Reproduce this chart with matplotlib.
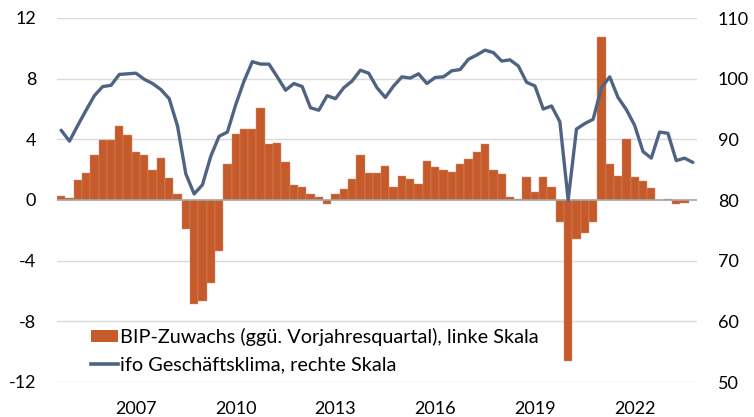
import numpy as np
import matplotlib
matplotlib.use("Agg")
import matplotlib.pyplot as plt
from matplotlib.patches import Patch
from matplotlib.lines import Line2D

plt.rcParams['font.family'] = ['Lato', 'DejaVu Sans']

# quarterly data, 2005Q1 .. 2024Q1
gdp_growth = [0.26, 0.15, 1.30, 1.78, 2.97, 3.98, 3.98, 4.88, 4.29, 3.16,
              2.97, 1.98, 2.77, 1.47, 0.37, -1.89, -6.86, -6.68, -5.47, -3.36,
              2.40, 4.37, 4.66, 4.66, 6.09, 3.72, 3.78, 2.48, 0.99, 0.88,
              0.40, 0.18, -0.29, 0.37, 0.70, 1.36, 2.97, 1.78, 1.78, 2.26,
              0.88, 1.58, 1.36, 1.08, 2.57, 2.20, 1.98, 1.87, 2.37, 2.68,
              3.16, 3.67, 1.98, 1.69, 0.20, 0.08, 1.50, 0.50, 1.49, 0.88,
              -1.47, -10.6, -2.6, -2.2, -1.47, 10.77, 2.37, 1.58, 4.0, 1.49,
              1.27, 0.77, 0.0, 0.07, -0.29, -0.18, np.nan]
ifo_climate = [91.5, 89.7, 92.3, 94.8, 97.2, 98.7, 98.9, 100.7, 100.8, 100.9,
               99.9, 99.2, 98.2, 96.7, 92.2, 84.3, 81.0, 82.5, 87.2, 90.5,
               91.2, 95.7, 99.6, 102.8, 102.4, 102.4, 100.3, 98.1, 99.2, 98.7,
               95.2, 94.8, 97.2, 96.7, 98.5, 99.6, 101.4, 100.9, 98.5, 96.9,
               98.8, 100.3, 100.1, 100.8, 99.2, 100.2, 100.3, 101.3, 101.5, 103.2,
               103.9, 104.7, 104.3, 102.9, 103.1, 102.1, 99.4, 98.8, 95.0, 95.5,
               92.9, 80.0, 91.7, 92.6, 93.3, 98.5, 100.3, 96.9, 94.9, 92.3,
               88.0, 86.9, 91.2, 91.0, 86.5, 86.9, 86.2]
year_labels = ['2007', '2010', '2013', '2016', '2019', '2022']
left_ticks = [-12, -8, -4, 0, 4, 8, 12]
right_ticks = [50, 60, 70, 80, 90, 100, 110]
label_bar = 'BIP-Zuwachs (ggü. Vorjahresquartal), linke Skala'
label_line = 'ifo Geschäftsklima, rechte Skala'

bar_color = '#C55A2B'
line_color = '#4F6483'

W, H = 754, 417
fig = plt.figure(figsize=(W / 100, H / 100), dpi=100)
ax = fig.add_axes([57 / W, 1 - 382 / H, 640 / W, 364 / H])

x = np.arange(len(ifo_climate))
ax.bar(x, gdp_growth, width=1.0, color=bar_color, edgecolor='#E09070',
       linewidth=0.3, zorder=2)
ax.set_xlim(-0.5, len(ifo_climate) - 0.5)
ax.set_ylim(-12, 12)
ax.set_yticks(left_ticks)
ax.set_yticklabels([str(t) for t in left_ticks])
for t in left_ticks:
    if t != 0:
        ax.axhline(t, color='#D9D9D9', lw=1.0, zorder=0)
ax.axhline(0, color='#A6A6A6', lw=1.2, zorder=3)

ax.set_xticks([9 + 12 * k for k in range(len(year_labels))])
ax.set_xticklabels(year_labels)

for s in ax.spines.values():
    s.set_visible(False)
ax.tick_params(axis='both', length=0, labelsize=13, colors='black')
ax.tick_params(axis='y', pad=15)
ax.tick_params(axis='x', pad=14)

ax2 = ax.twinx()
ax2.plot(x, ifo_climate, color=line_color, lw=2.4, solid_joinstyle='round',
         solid_capstyle='round', zorder=4)
ax2.set_ylim(50, 110)
ax2.set_yticks(right_ticks)
ax2.set_yticklabels([str(t) for t in right_ticks])
for s in ax2.spines.values():
    s.set_visible(False)
ax2.tick_params(axis='y', length=0, labelsize=13, pad=15, colors='black')

handles = [Patch(facecolor=bar_color, edgecolor='none'),
           Line2D([0], [0], color=line_color, lw=2.6)]
fig.legend(handles, [label_bar, label_line], loc='upper left',
           bbox_to_anchor=(91 / W, 1 - 328 / H), frameon=False,
           fontsize=14.3, handlelength=1.35, handletextpad=0.12,
           labelspacing=0.52, borderpad=0, borderaxespad=0,
           handleheight=0.55)

fig.savefig('out.png', dpi=100)
